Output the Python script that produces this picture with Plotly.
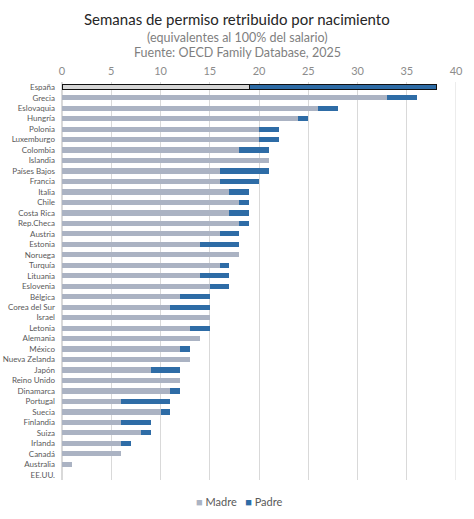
import plotly.graph_objects as go

countries = ["España", "Grecia", "Eslovaquia", "Hungría", "Polonia", "Luxemburgo", "Colombia",
             "Islandia", "Países Bajos", "Francia", "Italia", "Chile", "Costa Rica", "Rep.Checa",
             "Austria", "Estonia", "Noruega", "Turquía", "Lituania", "Eslovenia", "Bélgica",
             "Corea del Sur", "Israel", "Letonia", "Alemania", "México", "Nueva Zelanda", "Japón",
             "Reino Unido", "Dinamarca", "Portugal", "Suecia", "Finlandia", "Suiza", "Irlanda",
             "Canadá", "Australia", "EE.UU."]
madre = [19, 33, 26, 24, 20, 20, 18, 21, 16, 16, 17, 18, 17, 18, 16, 14, 18, 16, 14, 15, 12,
         11, 15, 13, 14, 12, 13, 9, 12, 11, 6, 10, 6, 8, 6, 6, 1, 0]
padre = [19, 3, 2, 1, 2, 2, 3, 0, 5, 4, 2, 1, 2, 1, 2, 4, 0, 1, 3, 2, 3,
         4, 0, 2, 0, 1, 0, 3, 0, 1, 5, 1, 3, 1, 1, 0, 0, 0]
highlight = "España"
series_names = ["Madre", "Padre"]

title = "Semanas de permiso retribuido por nacimiento"
subtitle1 = "(equivalentes al 100% del salario)"
subtitle2 = "Fuente: OECD Family Database, 2025"

C_MADRE = "#abb3c3"
C_PADRE = "#2e6ca6"
C_MADRE_HL = "#d6d6d6"
FONT = "Lato"

idx_rest = [i for i, c in enumerate(countries) if c != highlight]
idx_hl = [i for i, c in enumerate(countries) if c == highlight]

fig = go.Figure()
fig.add_trace(go.Bar(name=series_names[0], orientation="h", showlegend=False,
                     y=[countries[i] for i in idx_rest], x=[madre[i] for i in idx_rest],
                     marker=dict(color=C_MADRE, line=dict(width=0))))
fig.add_trace(go.Bar(name=series_names[1], orientation="h", showlegend=False,
                     y=[countries[i] for i in idx_rest], x=[padre[i] for i in idx_rest],
                     marker=dict(color=C_PADRE, line=dict(width=0))))
fig.add_trace(go.Bar(name=series_names[0], orientation="h", showlegend=False,
                     y=[countries[i] for i in idx_hl], x=[madre[i] for i in idx_hl],
                     marker=dict(color=C_MADRE_HL, line=dict(width=1.2, color="#111111"))))
fig.add_trace(go.Bar(name=series_names[1], orientation="h", showlegend=False,
                     y=[countries[i] for i in idx_hl], x=[padre[i] for i in idx_hl],
                     marker=dict(color=C_PADRE, line=dict(width=1.2, color="#111111"))))

ML, MR, MT, MB = 62, 18, 82, 39
W, H = 474, 519
ph = H - MT - MB
pw = W - ML - MR

def py(ypx):
    return 1 + (MT - ypx) / ph

def px(xpx):
    return (xpx - ML) / pw

legend_text = (f"<span style='color:{C_MADRE};font-size:11px'>■</span> {series_names[0]}"
               f"&nbsp;&nbsp;&nbsp;<span style='color:{C_PADRE};font-size:11px'>■</span> {series_names[1]}")

fig.update_layout(
    width=W, height=H,
    margin=dict(l=ML, r=MR, t=MT, b=MB, pad=0),
    paper_bgcolor="white", plot_bgcolor="white",
    barmode="stack", bargap=0.5,
    font=dict(family=FONT, color="#595959"),
    showlegend=False,
    xaxis=dict(side="top", range=[0, 40], dtick=5, tick0=0, showgrid=True,
               gridcolor="#d9d9d9", gridwidth=1, zeroline=True, zerolinecolor="#d9d9d9",
               showline=False, ticks="", tickfont=dict(size=11, color="#8c8c8c"),
               ticklabelstandoff=4, automargin=False, fixedrange=True),
    yaxis=dict(categoryorder="array", categoryarray=countries, autorange="reversed",
               showgrid=False, ticks="", tickfont=dict(size=8, color="#595959"),
               ticklabelstandoff=6, automargin=False, showline=False, fixedrange=True),
    annotations=[
        dict(text=title, x=px(237), y=py(19), xref="paper", yref="paper", showarrow=False,
             xanchor="center", yanchor="middle", font=dict(size=15, color="#262626", family=FONT)),
        dict(text=subtitle1, x=px(237), y=py(38), xref="paper", yref="paper", showarrow=False,
             xanchor="center", yanchor="middle", font=dict(size=12.5, color="#7f7f7f", family=FONT)),
        dict(text=subtitle2, x=px(237), y=py(53), xref="paper", yref="paper", showarrow=False,
             xanchor="center", yanchor="middle", font=dict(size=12.5, color="#7f7f7f", family=FONT)),
        dict(text=legend_text, x=px(239), y=py(502), xref="paper", yref="paper", showarrow=False,
             xanchor="center", yanchor="middle", font=dict(size=11, color="#595959", family=FONT)),
    ],
)
fig.add_shape(type="line", xref="x", yref="paper", x0=40, x1=40, y0=0, y1=1,
              line=dict(color="#d9d9d9", width=1), layer="below")

fig.write_html("out.html")
